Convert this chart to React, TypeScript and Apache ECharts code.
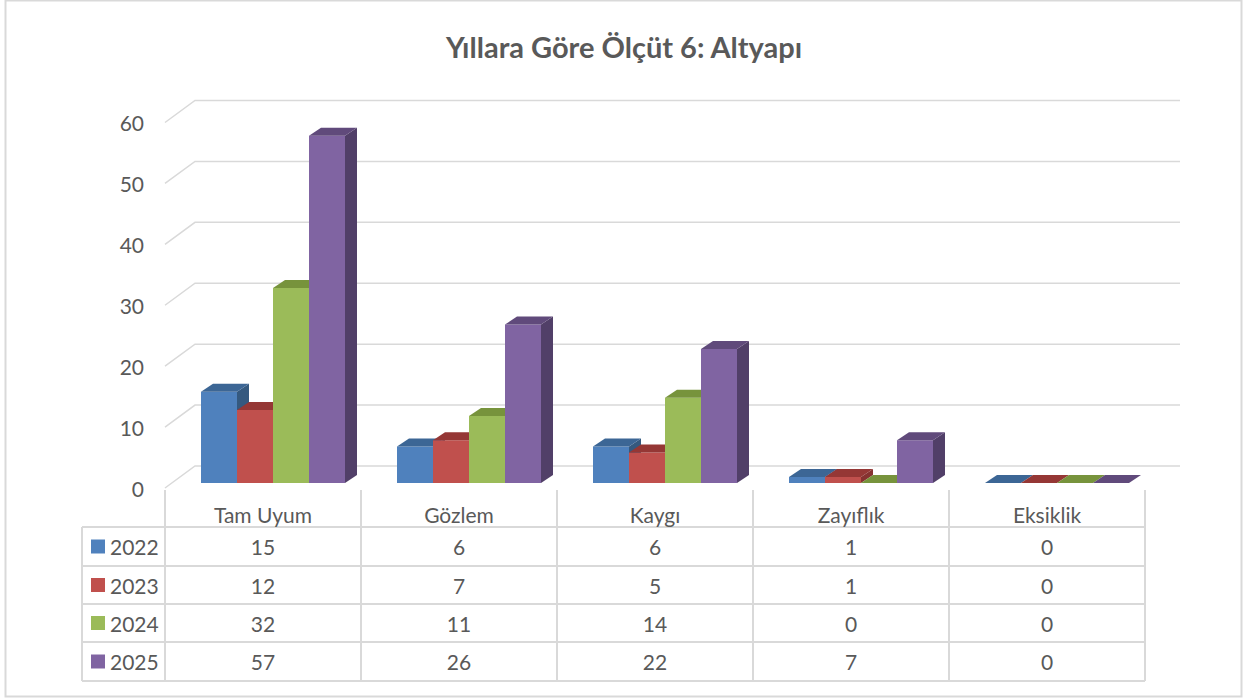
import React, { useEffect, useRef } from "react";
import * as echarts from "echarts";

const categories = ["Tam Uyum", "Gözlem", "Kaygı", "Zayıflık", "Eksiklik"];
const years = ["2022", "2023", "2024", "2025"];
const values2022 = [15, 6, 6, 1, 0];
const values2023 = [12, 7, 5, 1, 0];
const values2024 = [32, 11, 14, 0, 0];
const values2025 = [57, 26, 22, 7, 0];
const yTicks = [0, 10, 20, 30, 40, 50, 60];
const title = "Yıllara Göre Ölçüt 6: Altyapı";

const seriesValues = [values2022, values2023, values2024, values2025];
const frontColors = ["#4F81BD", "#C0504D", "#9BBB59", "#8064A2"];
const topColors = ["#3C6695", "#953735", "#77933C", "#604A7B"];
const sideColors = ["#35597F", "#863230", "#6A8535", "#513F68"];

const FONT = "Lato, 'Open Sans', sans-serif";
const TXT = "#595959";
const LINE = "#D9D9D9";

export default function App() {
  const ref = useRef<HTMLDivElement>(null);
  useEffect(() => {
    document.body.style.margin = "0";
    const chart = echarts.init(ref.current!, null, { renderer: "svg" });

    const gridLeft = 165;
    const gridRight = 1145;
    const gridTop = 122.5;
    const gridBottom = 488;
    const catW = (gridRight - gridLeft) / categories.length;

    const gridSeries: any = {
      type: "custom",
      silent: true,
      z: 1,
      data: yTicks.map((v) => [0, v]),
      renderItem: (params: any, api: any) => {
        const cs = params.coordSys;
        const y = api.coord([0, api.value(1)])[1];
        return {
          type: "polyline",
          shape: {
            points: [
              [cs.x, y],
              [cs.x + 30, y - 22],
              [cs.x + cs.width + 35, y - 22],
            ],
          },
          style: { stroke: LINE, lineWidth: 1.5, fill: null },
        };
      },
    };

    const barSeries = seriesValues.map((vals, s) => ({
      type: "custom",
      name: years[s],
      z: 2 + s,
      data: vals.map((v, i) => [i, v]),
      renderItem: (params: any, api: any) => {
        const ci = api.value(0);
        const v = api.value(1);
        const top = api.coord([ci, v]);
        const base = api.coord([ci, 0]);
        const bw = api.size([1, 0])[0];
        const barW = (bw * 36) / 196;
        const x0 = top[0] - bw / 2 + barW + s * barW;
        const x1 = x0 + barW;
        const yb = base[1] - 5;
        const yt = top[1] - 5;
        const dx = 12;
        const dy = -8;
        const children: any[] = [];
        if (yb - yt > 0.1) {
          children.push({
            type: "rect",
            shape: { x: x0, y: yt, width: barW, height: yb - yt },
            style: { fill: frontColors[s] },
          });
          children.push({
            type: "polygon",
            shape: {
              points: [
                [x1, yt],
                [x1 + dx, yt + dy],
                [x1 + dx, yb + dy],
                [x1, yb],
              ],
            },
            style: { fill: sideColors[s] },
          });
        }
        children.push({
          type: "polygon",
          shape: {
            points: [
              [x0, yt],
              [x1, yt],
              [x1 + dx, yt + dy],
              [x0 + dx, yt + dy],
            ],
          },
          style: { fill: topColors[s] },
        });
        return { type: "group", children };
      },
    }));

    // table graphics
    const rowYs = [527, 566, 604, 642, 681];
    const legendLeft = 82;
    const graphics: any[] = [];
    graphics.push({
      type: "rect",
      shape: { x: 5.5, y: 0.5, width: 1236, height: 696 },
      style: { fill: null, stroke: LINE, lineWidth: 2 },
      silent: true,
    });
    for (let k = 0; k <= categories.length; k++) {
      const x = gridLeft + k * catW;
      graphics.push({
        type: "line",
        shape: { x1: x, y1: 490, x2: x, y2: rowYs[rowYs.length - 1] },
        style: { stroke: LINE, lineWidth: 2 },
      });
    }
    graphics.push({
      type: "line",
      shape: { x1: legendLeft, y1: rowYs[0], x2: legendLeft, y2: rowYs[rowYs.length - 1] },
      style: { stroke: LINE, lineWidth: 2 },
    });
    rowYs.forEach((y) => {
      graphics.push({
        type: "line",
        shape: { x1: legendLeft, y1: y, x2: gridRight, y2: y },
        style: { stroke: LINE, lineWidth: 2 },
      });
    });
    years.forEach((yr, r) => {
      const cy = (rowYs[r] + rowYs[r + 1]) / 2;
      graphics.push({
        type: "rect",
        shape: { x: 91, y: cy - 7, width: 14, height: 14 },
        style: { fill: frontColors[r] },
      });
      graphics.push({
        type: "text",
        x: 110,
        y: cy,
        style: {
          text: yr,
          fill: TXT,
          font: `21px ${FONT}`,
          textAlign: "left",
          textVerticalAlign: "middle",
        },
      });
      seriesValues[r].forEach((v, c) => {
        graphics.push({
          type: "text",
          x: gridLeft + (c + 0.5) * catW,
          y: cy,
          style: {
            text: String(v),
            fill: TXT,
            font: `21px ${FONT}`,
            textAlign: "center",
            textVerticalAlign: "middle",
          },
        });
      });
    });

    chart.setOption({
      animation: false,
      backgroundColor: "#ffffff",
      title: {
        text: title,
        left: "center",
        top: 27,
        textStyle: {
          fontFamily: FONT,
          fontSize: 29,
          fontWeight: "bold",
          color: TXT,
        },
      },
      grid: {
        left: gridLeft,
        right: 1248 - gridRight,
        top: gridTop,
        bottom: 699 - gridBottom,
        containLabel: false,
      },
      xAxis: {
        type: "category",
        data: categories,
        axisLine: { show: false },
        axisTick: { show: false },
        splitLine: { show: false },
        axisLabel: {
          color: TXT,
          fontFamily: FONT,
          fontSize: 21,
          margin: 16,
          interval: 0,
        },
      },
      yAxis: {
        type: "value",
        min: 0,
        max: 60,
        interval: 10,
        axisLine: { show: false },
        axisTick: { show: false },
        splitLine: { show: false },
        axisLabel: {
          color: TXT,
          fontFamily: FONT,
          fontSize: 21,
          margin: 21,
        },
      },
      graphic: graphics,
      series: [gridSeries, ...barSeries],
    });
    return () => chart.dispose();
  }, []);
  return <div ref={ref} style={{ width: 1248, height: 699 }} />;
}
